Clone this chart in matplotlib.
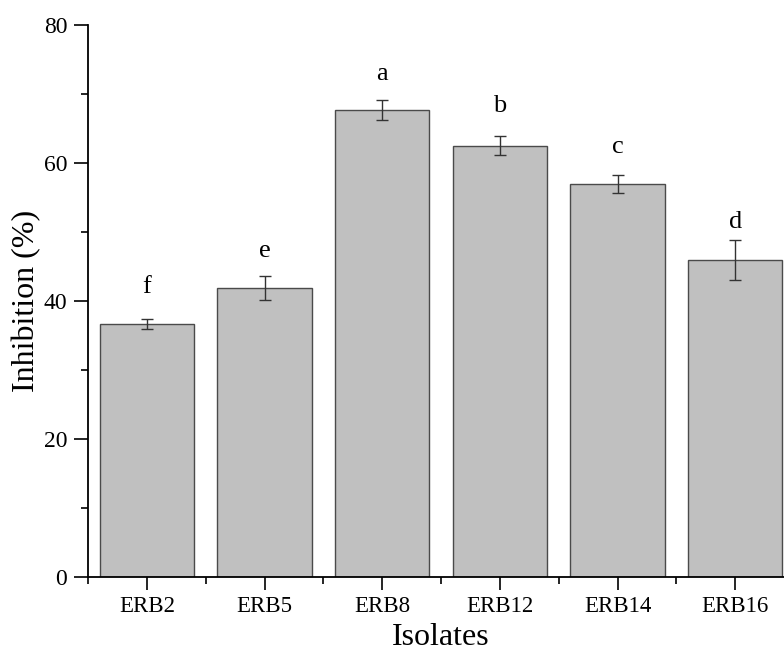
import matplotlib
matplotlib.use("Agg")
import matplotlib.pyplot as plt
from matplotlib.ticker import MultipleLocator, FixedLocator

isolates = ["ERB2", "ERB5", "ERB8", "ERB12", "ERB14", "ERB16"]
inhibition = [36.7, 41.9, 67.7, 62.5, 57.0, 45.9]
errors = [0.7, 1.7, 1.5, 1.4, 1.3, 2.9]
letters = ["f", "e", "a", "b", "c", "d"]
letter_y = [42.0, 47.2, 72.9, 68.3, 62.3, 51.4]

plt.rcParams['font.family'] = ['Liberation Serif', 'DejaVu Serif']

fig = plt.figure(figsize=(7.84, 6.53), dpi=100)
ax = fig.add_axes([88/784, 76/653, 706/784, 552/653])

x = list(range(len(isolates)))
ax.bar(x, inhibition, width=0.8, color="#c0c0c0", edgecolor="#4a4a4a", linewidth=1.0, zorder=2)
ax.errorbar(x, inhibition, yerr=errors, fmt="none", ecolor="#333333", elinewidth=1.0,
            capsize=4.0, capthick=1.0, zorder=3)
for xi, lab, ly in zip(x, letters, letter_y):
    ax.text(xi, ly, lab, ha="center", va="center", fontsize=19)

ax.set_xlim(-0.5, 5.5)
ax.set_ylim(0, 80)
ax.set_xticks(x)
ax.set_xticklabels(isolates, fontsize=16.5)
ax.xaxis.set_minor_locator(FixedLocator([i - 0.5 for i in range(len(isolates) + 1)]))
ax.yaxis.set_major_locator(MultipleLocator(20))
ax.yaxis.set_minor_locator(MultipleLocator(10))
ax.tick_params(axis="y", which="major", direction="out", length=10, width=1.2, labelsize=17, pad=5)
ax.tick_params(axis="y", which="minor", direction="out", length=5, width=1.2)
ax.tick_params(axis="x", which="major", direction="out", length=9, width=1.2, pad=5)
ax.tick_params(axis="x", which="minor", direction="out", length=5, width=1.2)

for s in ["top", "right"]:
    ax.spines[s].set_visible(False)
for s in ["left", "bottom"]:
    ax.spines[s].set_linewidth(1.3)

ax.set_ylabel("Inhibition (%)", fontsize=23, labelpad=2)
ax.set_xlabel("Isolates", fontsize=23, labelpad=4)

fig.savefig("out.png", dpi=100)
